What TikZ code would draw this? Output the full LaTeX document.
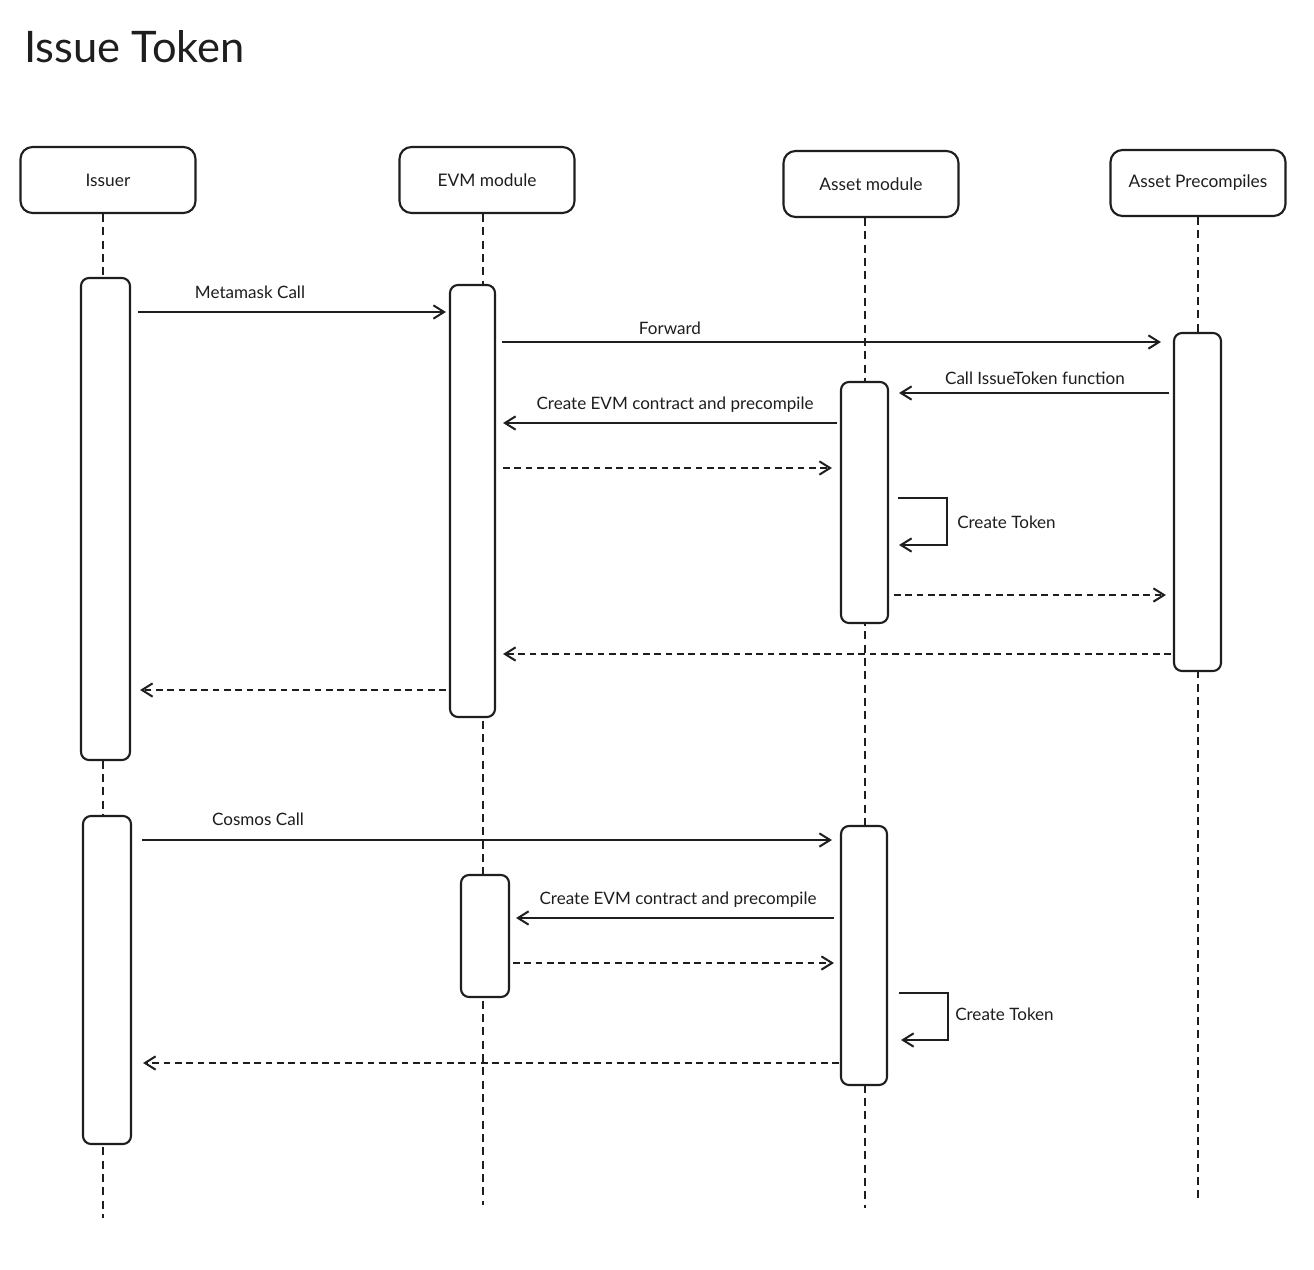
\documentclass[tikz,border=0pt]{standalone}
\usepackage{fontspec}
\setmainfont{Lato}
\usetikzlibrary{arrows.meta,calc}
\definecolor{ink}{HTML}{1E1E1E}
\begin{document}
\begin{tikzpicture}[x=0.75pt,y=-0.75pt,
  every node/.style={text=ink, font=\fontsize{12.8}{15}\selectfont},
  header/.style={draw=ink, line width=1.6pt, rounded corners=9pt, minimum width=131.25pt, minimum height=49.5pt, inner sep=0pt, font=\fontsize{13}{15}\selectfont},
  act/.style={draw=ink, line width=1.6pt, rounded corners=6pt, fill=white, inner sep=0pt},
  life/.style={draw=ink, line width=1.4pt, dash pattern=on 6pt off 4pt},
  msg/.style={draw=ink, line width=1.5pt, -{Straight Barb[length=8pt,width=10pt,line width=1.5pt]}},
  ret/.style={msg, dash pattern=on 5pt off 3.5pt},
  lbl/.style={inner sep=0pt}]
\useasboundingbox[fill=white] (0,0) rectangle (1314,1270);

% title
\node[lbl, anchor=west, font=\fontsize{32.6}{36}\selectfont] (title) at (24,47) {Issue Token};

% headers
\node[header] (iss) at (108,180) {Issuer};
\node[header] (evm) at (487,180) {EVM module};
\node[header] (ast) at (871,184) {Asset module};
\node[header] (pre) at (1198,183) {Asset Precompiles};

% lifeline ends
\coordinate (issE) at (103,1218);
\coordinate (evmE) at (483,1205);
\coordinate (astE) at (865,1208);
\coordinate (preE) at (1198,1203);
\draw[life] (issE |- iss.south) -- (issE);
\draw[life] (evmE |- evm.south) -- (evmE);
\draw[life] (astE |- ast.south) -- (astE);
\draw[life] (preE |- pre.south) -- (preE);

% activation boxes
\node[act, minimum width=36.75pt, minimum height=361.5pt] (iss1) at (105.5,519) {};
\node[act, minimum width=33.75pt, minimum height=324pt] (evm1) at (472.5,501) {};
\node[act, minimum width=35.25pt, minimum height=180.75pt] (ast1) at (864.5,502.5) {};
\node[act, minimum width=35.25pt, minimum height=253.5pt] (pre1) at (1197.5,502) {};
\node[act, minimum width=36pt, minimum height=246pt] (iss2) at (107,980) {};
\node[act, minimum width=36pt, minimum height=91.5pt] (evm2) at (485,936) {};
\node[act, minimum width=34.5pt, minimum height=194.25pt] (ast2) at (864,955.5) {};

% message levels
\coordinate (y1) at (0,312);
\coordinate (y2) at (0,342);
\coordinate (y3) at (0,393);
\coordinate (y4) at (0,423);
\coordinate (y5) at (0,468);
\coordinate (y6a) at (0,498);
\coordinate (y6b) at (0,545);
\coordinate (y7) at (0,595);
\coordinate (y8) at (0,654);
\coordinate (y9) at (0,690);
\coordinate (y10) at (0,840);
\coordinate (y11) at (0,918);
\coordinate (y12) at (0,963);
\coordinate (y13a) at (0,993);
\coordinate (y13b) at (0,1040);
\coordinate (y14) at (0,1063);

% first sequence
\draw[msg] ($(iss1.east|-y1)+(7,0)$) -- ($(evm1.west|-y1)+(-3,0)$);
\node[lbl] (l1) at (250,292) {Metamask Call};
\draw[msg] ($(evm1.east|-y2)+(6,0)$) -- ($(pre1.west|-y2)+(-12,0)$);
\node[lbl] (l2) at (670,328) {Forward};
\draw[msg] ($(pre1.west|-y3)+(-4,0)$) -- ($(ast1.east|-y3)+(10,0)$);
\node[lbl] (l3) at (1035,378) {Call IssueToken function};
\draw[msg] ($(ast1.west|-y4)+(-3,0)$) -- ($(evm1.east|-y4)+(7,0)$);
\node[lbl] (l4) at (675,405) {Create EVM contract and precompile};
\draw[ret] ($(evm1.east|-y5)+(7,0)$) -- ($(ast1.west|-y5)+(-8,0)$);
\draw[msg] ($(ast1.east|-y6a)+(9,0)$) -- (947,498) -- (947,545) -- ($(ast1.east|-y6b)+(10,0)$);
\node[lbl, anchor=west] (l6) at (957,522) {Create Token};
\draw[ret] ($(ast1.east|-y7)+(5,0)$) -- ($(pre1.west|-y7)+(-7,0)$);
\draw[ret] ($(pre1.west|-y8)+(-2,0)$) -- ($(evm1.east|-y8)+(7,0)$);
\draw[ret] ($(evm1.west|-y9)+(-3,0)$) -- ($(iss1.east|-y9)+(9,0)$);

% second sequence
\draw[msg] ($(iss2.east|-y10)+(10,0)$) -- ($(ast2.west|-y10)+(-8,0)$);
\node[lbl] (l10) at (258,819) {Cosmos Call};
\draw[msg] ($(ast2.west|-y11)+(-6,0)$) -- ($(evm2.east|-y11)+(6,0)$);
\node[lbl] (l11) at (678,900) {Create EVM contract and precompile};
\draw[ret] ($(evm2.east|-y12)+(3,0)$) -- ($(ast2.west|-y12)+(-6,0)$);
\draw[msg] ($(ast2.east|-y13a)+(11,0)$) -- (948,993) -- (948,1040) -- ($(ast2.east|-y13b)+(13,0)$);
\node[lbl, anchor=west] (l13) at (955,1014) {Create Token};
\draw[ret] ($(ast2.west|-y14)+(-1,0)$) -- ($(iss2.east|-y14)+(11,0)$);
\end{tikzpicture}
\end{document}
